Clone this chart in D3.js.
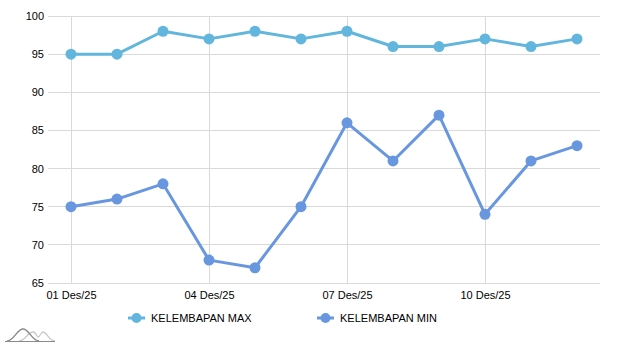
<!DOCTYPE html>
<html><head><meta charset="utf-8">
<script src="https://cdn.jsdelivr.net/npm/d3@7"></script>
<style>body{margin:0;background:#fff}text{font-family:"Liberation Sans",Arial,sans-serif;font-size:11px;fill:#000}</style>
</head><body><svg id="c" width="620" height="348"></svg>
<script>
const categories = ["01 Des/25","02 Des/25","03 Des/25","04 Des/25","05 Des/25","06 Des/25","07 Des/25","08 Des/25","09 Des/25","10 Des/25","11 Des/25","12 Des/25"];
const maxValues = [95,95,98,97,98,97,98,96,96,97,96,97];
const minValues = [75,76,78,68,67,75,86,81,87,74,81,83];
const yTicks = [65,70,75,80,85,90,95,100];
const xTickLabels = ["01 Des/25","04 Des/25","07 Des/25","10 Des/25"];
const seriesNames = ["KELEMBAPAN MAX","KELEMBAPAN MIN"];

const svg = d3.select("#c");
const L=48,R=600,T=16,B=283;
const x = d3.scalePoint().domain(categories).range([L,R]).padding(0.5);
const y = d3.scaleLinear().domain([65,100]).range([B,T]);
const colors = ["#62b6dd","#6897e0"];

// horizontal grid
svg.append("g").selectAll("line").data(yTicks).join("line")
  .attr("x1",L).attr("x2",R).attr("y1",d=>y(d)).attr("y2",d=>y(d))
  .attr("stroke","#d9d9d9").attr("stroke-width",1).attr("shape-rendering","crispEdges");
// vertical grid
svg.append("g").selectAll("line").data(xTickLabels).join("line")
  .attr("x1",d=>x(d)).attr("x2",d=>x(d)).attr("y1",T).attr("y2",B)
  .attr("stroke","#d9d9d9").attr("stroke-width",1).attr("shape-rendering","crispEdges");

// y axis labels
const ya = d3.axisLeft(y).tickValues(yTicks).tickSize(0).tickPadding(4);
const gy = svg.append("g").attr("transform",`translate(${L},0)`).call(ya);
gy.select(".domain").remove();
gy.selectAll("text").style("font-family","'Liberation Sans',Arial,sans-serif").style("font-size","11px").attr("fill","#000");

// x axis labels
const xa = d3.axisBottom(x).tickValues(xTickLabels).tickSize(0).tickPadding(8);
const gx = svg.append("g").attr("transform",`translate(0,${B})`).call(xa);
gx.select(".domain").remove();
gx.selectAll("text").style("font-family","'Liberation Sans',Arial,sans-serif").style("font-size","11px").attr("fill","#000");

const line = d3.line().x((d,i)=>x(categories[i])).y(d=>y(d));
[maxValues,minValues].forEach((vals,k)=>{
  svg.append("path").datum(vals).attr("d",line).attr("fill","none")
    .attr("stroke",colors[k]).attr("stroke-width",3).attr("stroke-linejoin","round");
  svg.append("g").selectAll("circle").data(vals).join("circle")
    .attr("cx",(d,i)=>x(categories[i])).attr("cy",d=>y(d)).attr("r",5.5).attr("fill",colors[k]);
});

// legend
const legX=[128,317];
seriesNames.forEach((n,k)=>{
  const g = svg.append("g").attr("transform",`translate(${legX[k]},318)`);
  g.append("line").attr("x1",0).attr("x2",17).attr("y1",0).attr("y2",0).attr("stroke",colors[k]).attr("stroke-width",3);
  g.append("circle").attr("cx",8.5).attr("cy",0).attr("r",5).attr("fill",colors[k]);
  g.append("text").attr("x",23).attr("y",4).text(n);
});

// logo
const lg = svg.append("g").attr("transform","translate(5,328)");
lg.append("path").attr("d","M14,13 C20,13 23,4 28,4 C31,4 32,9 33,9 C35,9 36,4 38,4 C42,4 44,13 50,13")
  .attr("fill","none").attr("stroke","#c8c8c8").attr("stroke-width",1.3);
lg.append("path").attr("d","M2,13 C9,13 12,1 18,1 C24,1 27,13 34,13")
  .attr("fill","none").attr("stroke","#8a8a8a").attr("stroke-width",1.4);
lg.append("line").attr("x1",0).attr("x2",50).attr("y1",13.5).attr("y2",13.5).attr("stroke","#8a8a8a").attr("stroke-width",1.2);
</script></body></html>
